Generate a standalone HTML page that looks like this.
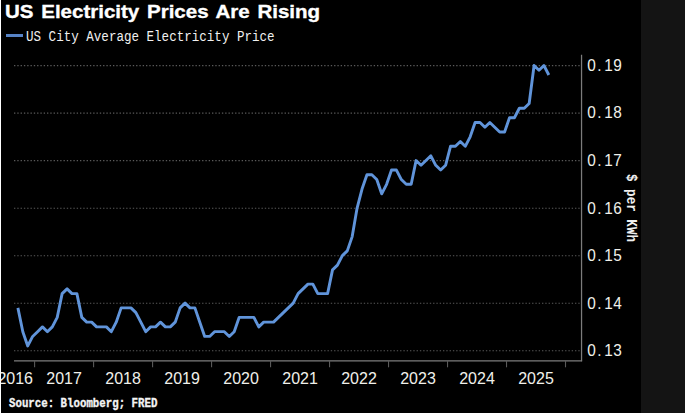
<!DOCTYPE html>
<html><head><meta charset="utf-8"><title>US Electricity Prices Are Rising</title>
<style>
html,body{margin:0;padding:0;background:#000;}
body{width:685px;height:413px;position:relative;overflow:hidden;font-family:"Liberation Sans",sans-serif;color:#fff;}
#right{position:absolute;left:641px;top:0;width:44px;height:413px;background:#141414;}
#left{position:absolute;left:0;top:0;width:1px;height:413px;background:#fff;}
#title{position:absolute;left:5px;top:0px;font-weight:bold;font-size:18.8px;line-height:24px;white-space:nowrap;transform-origin:0 0;transform:scaleX(1.092);word-spacing:1.85px;-webkit-text-stroke:0.35px #fff;color:#fff;}
#legsw{position:absolute;left:6.3px;top:34.1px;width:16.8px;height:3.2px;background:#5783c5;}
#leg{position:absolute;left:25.8px;top:27.5px;font-family:"Liberation Mono",monospace;font-size:15.5px;line-height:18px;white-space:nowrap;transform-origin:0 0;transform:scaleX(0.810);color:#f0f0f0;}
svg{position:absolute;left:0;top:0;}
.yl{position:absolute;left:586.6px;font-size:16px;line-height:18px;white-space:nowrap;color:#f0f0ea;}
.yl .c{display:inline-block;width:8.72px;text-align:center;transform:scale(0.96,1.07);}
.xl{position:absolute;top:369.8px;width:60px;text-align:center;font-size:16px;line-height:18px;color:#f0f0ea;transform-origin:50% 72%;transform:scaleY(1.055);}
#unit{position:absolute;left:630.4px;top:207.8px;width:0;height:0;}
#unit span{position:absolute;display:block;white-space:nowrap;font-family:"Liberation Mono",monospace;font-weight:bold;font-size:15px;line-height:16px;transform:translate(-50%,-50%) rotate(90deg) scaleX(0.84);color:#f0f0f0;}
#src{position:absolute;left:8.5px;top:397.05px;-webkit-text-stroke:0.35px #f4f4f4;font-family:"Liberation Mono",monospace;font-weight:bold;font-size:13px;line-height:14px;white-space:nowrap;transform-origin:0 0;transform:scaleX(0.827);color:#f4f4f4;}
</style></head><body>
<div id="right"></div>
<svg width="685" height="413" viewBox="0 0 685 413">
<g stroke="#5a5a5a" stroke-width="1.1" stroke-dasharray="1.35 1.95"><line x1="14" x2="581.5" y1="65.60" y2="65.60"/><line x1="14" x2="581.5" y1="113.13" y2="113.13"/><line x1="14" x2="581.5" y1="160.66" y2="160.66"/><line x1="14" x2="581.5" y1="208.19" y2="208.19"/><line x1="14" x2="581.5" y1="255.72" y2="255.72"/><line x1="14" x2="581.5" y1="303.25" y2="303.25"/><line x1="14" x2="581.5" y1="350.78" y2="350.78"/></g>
<g stroke="#7c7c7c" stroke-width="1.25">
<line x1="581.55" x2="581.55" y1="54.8" y2="361.3"/>
<line x1="14" x2="582.1" y1="360.8" y2="360.8"/>
</g>
<g stroke="#5a5a5a" stroke-width="1.1"><line x1="34.60" x2="34.60" y1="361" y2="367.3"/><line x1="93.59" x2="93.59" y1="361" y2="367.3"/><line x1="152.58" x2="152.58" y1="361" y2="367.3"/><line x1="211.57" x2="211.57" y1="361" y2="367.3"/><line x1="270.56" x2="270.56" y1="361" y2="367.3"/><line x1="329.55" x2="329.55" y1="361" y2="367.3"/><line x1="388.54" x2="388.54" y1="361" y2="367.3"/><line x1="447.53" x2="447.53" y1="361" y2="367.3"/><line x1="506.52" x2="506.52" y1="361" y2="367.3"/><line x1="565.51" x2="565.51" y1="361" y2="367.3"/></g>
<polyline fill="none" stroke="#6094da" stroke-width="2.9" stroke-linejoin="round" stroke-linecap="butt" points="17.90,307.90 22.82,331.67 27.73,345.93 32.65,336.42 37.56,331.67 42.48,326.91 47.40,331.67 52.31,326.91 57.23,317.41 62.14,293.64 67.06,288.89 71.98,293.64 76.89,293.64 81.81,317.41 86.72,322.16 91.64,322.16 96.56,326.91 101.47,326.91 106.39,326.91 111.30,331.67 116.22,322.16 121.14,307.90 126.05,307.90 130.97,307.90 135.88,312.66 140.80,322.16 145.72,331.67 150.63,326.91 155.55,326.91 160.46,322.16 165.38,326.91 170.30,326.91 175.21,322.16 180.13,307.90 185.04,303.15 189.96,307.90 194.88,307.90 199.79,322.16 204.71,336.42 209.62,336.42 214.54,331.67 219.46,331.67 224.37,331.67 229.29,336.42 234.20,331.67 239.12,317.41 244.04,317.41 248.95,317.41 253.87,317.41 258.78,326.91 263.70,322.16 268.62,322.16 273.53,322.16 278.45,317.41 283.36,312.66 288.28,307.90 293.20,303.15 298.11,293.64 303.03,288.89 307.94,284.14 312.86,284.14 317.78,293.64 322.69,293.64 327.61,293.64 332.52,269.88 337.44,265.13 342.36,255.62 347.27,250.87 352.19,236.61 357.10,208.09 362.02,189.08 366.94,174.82 371.85,174.82 376.77,179.57 381.68,193.83 386.60,184.32 391.52,170.07 396.43,170.07 401.35,179.57 406.26,184.32 411.18,184.32 416.10,160.56 421.01,165.31 425.93,160.56 430.84,155.81 435.76,165.31 440.68,170.07 445.59,165.31 450.51,146.30 455.42,146.30 460.34,141.55 465.26,146.30 470.17,136.80 475.09,122.54 480.00,122.54 484.92,127.29 489.84,122.54 494.75,127.29 499.67,132.04 504.58,132.04 509.50,117.78 514.42,117.78 519.33,108.28 524.25,108.28 529.16,103.52 534.08,65.50 539.00,70.25 543.91,65.50 548.83,75.01"/>
</svg>
<div id="title">US Electricity Prices Are Rising</div>
<div id="legsw"></div>
<div id="leg">US City Average Electricity Price</div>
<div class="yl" style="top:56.9px"><span class="c">0</span><span class="c">.</span><span class="c">1</span><span class="c">9</span></div><div class="yl" style="top:104.4px"><span class="c">0</span><span class="c">.</span><span class="c">1</span><span class="c">8</span></div><div class="yl" style="top:152.0px"><span class="c">0</span><span class="c">.</span><span class="c">1</span><span class="c">7</span></div><div class="yl" style="top:199.5px"><span class="c">0</span><span class="c">.</span><span class="c">1</span><span class="c">6</span></div><div class="yl" style="top:247.0px"><span class="c">0</span><span class="c">.</span><span class="c">1</span><span class="c">5</span></div><div class="yl" style="top:294.5px"><span class="c">0</span><span class="c">.</span><span class="c">1</span><span class="c">4</span></div><div class="yl" style="top:342.1px"><span class="c">0</span><span class="c">.</span><span class="c">1</span><span class="c">3</span></div>
<div class="xl" style="left:-14.8px">2016</div><div class="xl" style="left:34.1px">2017</div><div class="xl" style="left:93.1px">2018</div><div class="xl" style="left:152.1px">2019</div><div class="xl" style="left:211.1px">2020</div><div class="xl" style="left:270.1px">2021</div><div class="xl" style="left:329.0px">2022</div><div class="xl" style="left:388.0px">2023</div><div class="xl" style="left:447.0px">2024</div><div class="xl" style="left:506.0px">2025</div>
<div id="unit"><span>$ per KWh</span></div>
<div id="src">Source: Bloomberg; FRED</div>
<div id="left"></div>
</body></html>
